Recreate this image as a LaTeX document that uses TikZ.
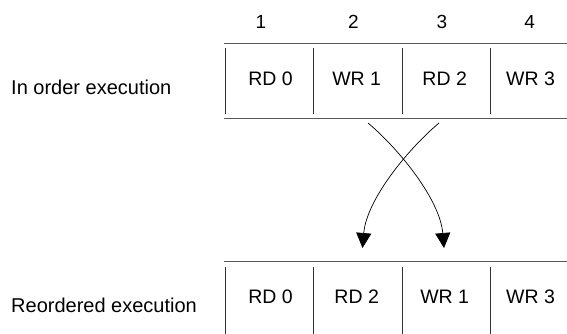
\documentclass[tikz,border=0pt]{standalone}
\usepackage{fontspec}
\setmainfont{Liberation Sans}
\usetikzlibrary{arrows.meta}
\begin{document}
\begin{tikzpicture}[x=1pt,y=-1pt,
  celltext/.style={font=\fontsize{19.5}{23}\selectfont, inner sep=0pt},
  numtext/.style={font=\fontsize{19}{22}\selectfont, inner sep=0pt},
  lbl/.style={font=\fontsize{20}{24}\selectfont, anchor=base west, inner sep=0pt},
  hrule/.style={draw=black!65, line width=1.3pt},
  vrule/.style={draw=black!80, line width=0.9pt},
  move/.style={draw=black, line width=0.7pt, -{Triangle[length=15pt,width=15pt]}}]
\useasboundingbox (0,0) rectangle (567,333);

% labels
\node[lbl] (lin) at (11,94.5) {In order execution};
\node[lbl] (lre) at (11,312.5) {Reordered execution};

% column numbers
\node[numtext] (n1) at (261,21.7) {1};
\node[numtext] (n2) at (353.5,21.7) {2};
\node[numtext] (n3) at (442,21.7) {3};
\node[numtext] (n4) at (529.7,21.7) {4};

% top row
\node[celltext] (t1) at (270.5,78.5) {RD 0};
\node[celltext] (t2) at (356.7,78.5) {WR 1};
\node[celltext] (t3) at (444.7,78.5) {RD 2};
\node[celltext] (t4) at (530.5,78.5) {WR 3};
\draw[hrule] (224,43.5) -- (567,43.5);
\draw[hrule] (224,118.5) -- (567,118.5);
\foreach \x in {225,313,402,490} \draw[vrule] (\x,48) -- (\x,114);

% bottom row
\node[celltext] (b1) at (270.5,297) {RD 0};
\node[celltext] (b2) at (356.7,297) {RD 2};
\node[celltext] (b3) at (444.7,297) {WR 1};
\node[celltext] (b4) at (530.5,297) {WR 3};
\draw[hrule] (224,261.7) -- (567,261.7);
\foreach \x in {225,313,402,490} \draw[vrule] (\x,267) -- (\x,334);

% movement arrows
\coordinate (a1) at (368,123);
\coordinate (a2) at (444,248);
\coordinate (c1) at (439,123);
\coordinate (c2) at (362.5,248);
\draw[move] (a1) .. controls (400,150) and (440,200) .. (a2);
\draw[move] (c1) .. controls (407,150) and (366.5,200) .. (c2);
\end{tikzpicture}
\end{document}
